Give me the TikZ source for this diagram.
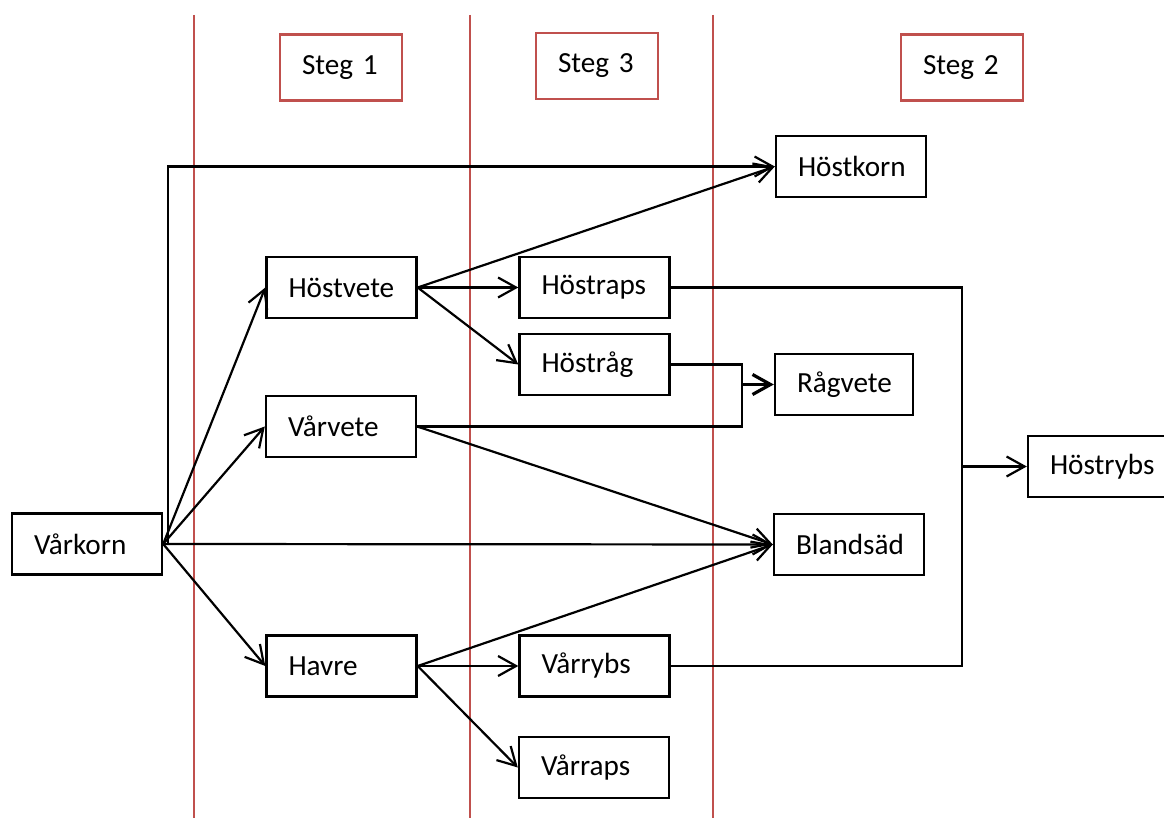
\documentclass[tikz,border=0pt]{standalone}
\usepackage{fontspec}
\setmainfont{Carlito}
\usetikzlibrary{arrows.meta, positioning}
\definecolor{stegred}{HTML}{C0504D}

\begin{document}
\begin{tikzpicture}[x=0.5pt, y=-0.5pt, font=\fontsize{14.6pt}{17pt}\selectfont,
    crop/.style={draw, line width=1.2pt, minimum height=30.5pt, inner xsep=11pt, text width=53pt, align=left},
    stegbox/.style={draw=stegred, line width=1.1pt, minimum height=33pt, inner xsep=11pt, text width=39pt, align=left},
    divider/.style={stegred, line width=1pt},
    link/.style={line width=1.1pt},
    >={Straight Barb[length=9pt, width=10pt]}]
    \useasboundingbox (0,0) rectangle (1164,818);  % Fixes the page size
    \foreach \x in {194,470,713}
        \draw[divider] (\x,15) -- (\x,818);  % Draws the red column lines
    \node[stegbox] (steg1) at (341,67.5) {Steg 1};  % Draws the step labels
    \node[stegbox] (steg3) at (597,66) {Steg 3};
    \node[stegbox] (steg2) at (962,67.5) {Steg 2};
    \node[crop] (varkorn) at (87,544) {Vårkorn};  % Draws the crop boxes
    \node[crop] (hostvete) at (341.5,287.5) {Höstvete};
    \node[crop] (varvete) at (341,426.5) {Vårvete};
    \node[crop] (havre) at (341.5,666) {Havre};
    \node[crop] (hostraps) at (594.5,287.5) {Höstraps};
    \node[crop] (hostrag) at (594.5,364.5) {Höstråg};
    \node[crop] (varrybs) at (594.5,666) {Vårrybs};
    \node[crop] (varraps) at (594,767.5) {Vårraps};
    \node[crop] (hostkorn) at (851,166.5) {Höstkorn};
    \node[crop, text width=47pt] (ragvete) at (844,384.5) {Rågvete};
    \node[crop] (blandsad) at (849,544.5) {Blandsäd};
    \node[crop] (hostrybs) at (1103,466.5) {Höstrybs};
    \coordinate (rv) at (742,384.5);  % Joins the two lines into Rågvete
    \coordinate (hr) at (962,466.5);  % Joins the two lines into Höstrybs
    \draw[link, ->] (varkorn.east) -- ++(5,0) |- (hostkorn.west);  % Draws the arrows from Vårkorn
    \draw[link, ->] (varkorn.east) -- (hostvete.west);
    \draw[link, ->] (varkorn.east) -- (varvete.west);
    \draw[link, ->] (varkorn.east) -- (blandsad.west);
    \draw[link, ->] (varkorn.east) -- (havre.west);
    \draw[link, ->] (hostvete.east) -- (hostkorn.west);  % Draws the arrows from Höstvete
    \draw[link, ->] (hostvete.east) -- (hostraps.west);
    \draw[link, ->] (hostvete.east) -- (hostrag.west);
    \draw[link, ->] (varvete.east) -- (blandsad.west);  % Draws the arrows from Vårvete
    \draw[link] (varvete.east) -| (rv);
    \draw[link] (hostrag.east) -| (rv);
    \draw[->, line width=1.6pt] (rv) -- (ragvete.west);
    \draw[link, ->] (havre.east) -- (blandsad.west);  % Draws the arrows from Havre
    \draw[link, ->] (havre.east) -- (varrybs.west);
    \draw[link, ->] (havre.east) -- (varraps.west);
    \draw[link] (hostraps.east) -| (hr);  % Draws the lines into Höstrybs
    \draw[link] (varrybs.east) -| (hr);
    \draw[link, ->] (hr) -- (hostrybs.west);
\end{tikzpicture}
\end{document}
